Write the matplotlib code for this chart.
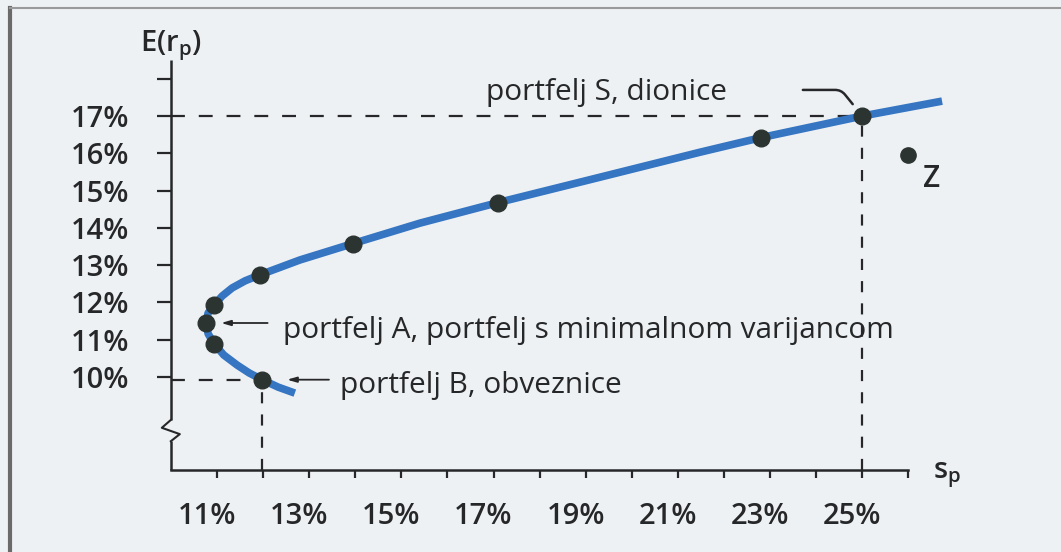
import matplotlib
matplotlib.use('Agg')
import matplotlib.pyplot as plt
from matplotlib.lines import Line2D
from matplotlib.transforms import ScaledTranslation

# ---------------- data ----------------
curve_s = [12.69, 12.33, 11.98, 11.70, 11.44, 11.15, 10.94, 10.81, 10.76, 10.81,
           10.94, 11.11, 11.33, 11.61, 11.93, 12.80, 13.95, 15.41, 17.10, 19.31,
           21.48, 22.80, 25.00, 26.73]
curve_r = [9.57, 9.73, 9.93, 10.11, 10.32, 10.59, 10.89, 11.16, 11.45, 11.72,
           11.93, 12.17, 12.39, 12.58, 12.74, 13.14, 13.58, 14.13, 14.68, 15.36,
           16.03, 16.42, 17.00, 17.40]

port_s = [11.98, 10.94, 10.76, 10.94, 11.93, 13.95, 17.10, 22.80, 25.00]
port_r = [9.93, 10.89, 11.45, 11.93, 12.74, 13.58, 14.68, 16.42, 17.00]

point_B = (11.98, 9.93)     # portfelj B, obveznice
point_A = (10.76, 11.45)    # portfelj A, minimalna varijanca
point_S = (25.00, 17.00)    # portfelj S, dionice
point_Z = (26.00, 15.95)

x_ticks = list(range(11, 27))
x_labels = [f'{v}%' if v % 2 == 1 and v <= 25 else '' for v in x_ticks]
y_ticks = list(range(10, 19))
y_labels = [f'{v}%' if v <= 17 else '' for v in y_ticks]

label_S = 'portfelj S, dionice'
label_A = 'portfelj A, portfelj s minimalnom varijancom'
label_B = 'portfelj B, obveznice'

# ---------------- style ----------------
plt.rcParams['font.family'] = ['Open Sans', 'DejaVu Sans']
plt.rcParams['lines.scale_dashes'] = False

BG = '#eef1f4'
INK = '#262728'
BLUE = '#3575c2'
DOT = '#2c3431'
FS = 21
FS_ANN = 21.5

fig = plt.figure(figsize=(10.61, 5.52), dpi=100)
fig.patch.set_facecolor(BG)
ax = fig.add_axes([0.1610, 0.1480, 0.7821, 0.8107])
ax.set_facecolor('none')
ax.set_xlim(10, 28)
ax.set_ylim(7.5, 19.5)

# spines
for sp in ['top', 'right', 'left']:
    ax.spines[sp].set_visible(False)
ax.spines['bottom'].set_bounds(10, 26)
ax.spines['bottom'].set_linewidth(1.8)
ax.spines['bottom'].set_color(INK)

# y axis line with a break (zigzag) near the bottom
brk_lo, brk_hi = 8.28, 8.85
dz = 0.195
ax.plot([10, 10], [7.5, brk_lo], color=INK, lw=1.8, clip_on=False, solid_capstyle='butt')
ax.plot([10, 10 + dz, 10 - dz, 10], [brk_lo, brk_lo + 0.19, brk_lo + 0.36, brk_hi],
        color=INK, lw=1.5, clip_on=False)
ax.plot([10, 10], [brk_hi, 18.5], color=INK, lw=1.8, clip_on=False, solid_capstyle='butt')

ax.set_xticks(x_ticks)
ax.set_xticklabels(x_labels, fontweight='semibold')
ax.set_yticks(y_ticks)
ax.set_yticklabels(y_labels, fontweight='semibold')
ax.tick_params(axis='x', direction='out', length=6, width=1.6, pad=17,
               labelsize=FS, colors=INK)
ax.tick_params(axis='y', direction='out', length=10, width=1.6, pad=20,
               labelsize=FS, colors=INK)

# dashed guide lines
dash = (0, (10, 10))
ax.plot([10, point_S[0]], [point_S[1], point_S[1]], color=INK, lw=1.6, ls=dash)
ax.plot([point_S[0], point_S[0]], [7.5, point_S[1]], color=INK, lw=1.6, ls=(0, (8, 8)))
ax.plot([10, point_B[0]], [point_B[1], point_B[1]], color=INK, lw=1.6, ls=dash)
ax.plot([point_B[0], point_B[0]], [7.5, point_B[1]], color=INK, lw=1.6, ls=(0, (8, 8)))

# frontier
ax.plot(curve_s, curve_r, color=BLUE, lw=5.5, solid_joinstyle='round',
        solid_capstyle='butt', clip_on=False, zorder=3)
ax.plot(port_s, port_r, 'o', color=DOT, ms=12, zorder=4)
ax.plot([point_Z[0]], [point_Z[1]], 'o', color=DOT, ms=11, zorder=4, clip_on=False)
ax.text(26.51, 15.31, 'Z', fontsize=FS_ANN, color=INK, ha='center', va='center',
        fontweight='semibold')

# annotations
ax.text(16.84, 17.43, label_S, fontsize=FS_ANN, color=INK, ha='left', va='baseline',
        fontweight='medium')
ax.annotate('', xy=point_S, xytext=(23.71, 17.70),
            arrowprops=dict(arrowstyle='-', color=INK, lw=1.8, shrinkA=0, shrinkB=11,
                            connectionstyle='angle,angleA=0,angleB=129,rad=6'))

ax.text(12.43, 11.05, label_A, fontsize=FS_ANN, color=INK, ha='left', va='baseline',
        fontweight='medium')
ax.annotate('', xy=point_A, xytext=(point_A[0] + 1.34, point_A[1]),
            arrowprops=dict(arrowstyle='-|>,head_length=0.55,head_width=0.16',
                            color=INK, lw=1.3, shrinkA=0, shrinkB=11))

ax.text(13.67, 9.57, label_B, fontsize=FS_ANN, color=INK, ha='left', va='baseline',
        fontweight='medium')
ax.annotate('', xy=point_B, xytext=(point_B[0] + 1.45, point_B[1]),
            arrowprops=dict(arrowstyle='-|>,head_length=0.55,head_width=0.16',
                            color=INK, lw=1.3, shrinkA=0, shrinkB=18))

# axis titles
ax.text(10, 18.88, r'E($\mathregular{r_p}$)', fontsize=FS, color=INK,
        ha='center', va='center', fontweight='semibold')
ax.text(26.53, 7.29, r'$\mathregular{s_p}$', fontsize=FS, color=INK,
        ha='left', va='baseline', fontweight='semibold')

# offset x tick labels slightly to the left as in the scan
fig.canvas.draw()
for lbl in ax.get_xticklabels():
    lbl.set_transform(lbl.get_transform() + ScaledTranslation(-0.10, 0, fig.dpi_scale_trans))

# page frame
fig.add_artist(Line2D([10 / 1061, 10 / 1061], [0, 1 - 8 / 552], transform=fig.transFigure,
                      color='#6a6a6a', lw=3))
fig.add_artist(Line2D([10 / 1061, 1], [1 - 8 / 552, 1 - 8 / 552], transform=fig.transFigure,
                      color='#9a9a9a', lw=1.5))

fig.savefig('out.png', dpi=100, facecolor=BG)
